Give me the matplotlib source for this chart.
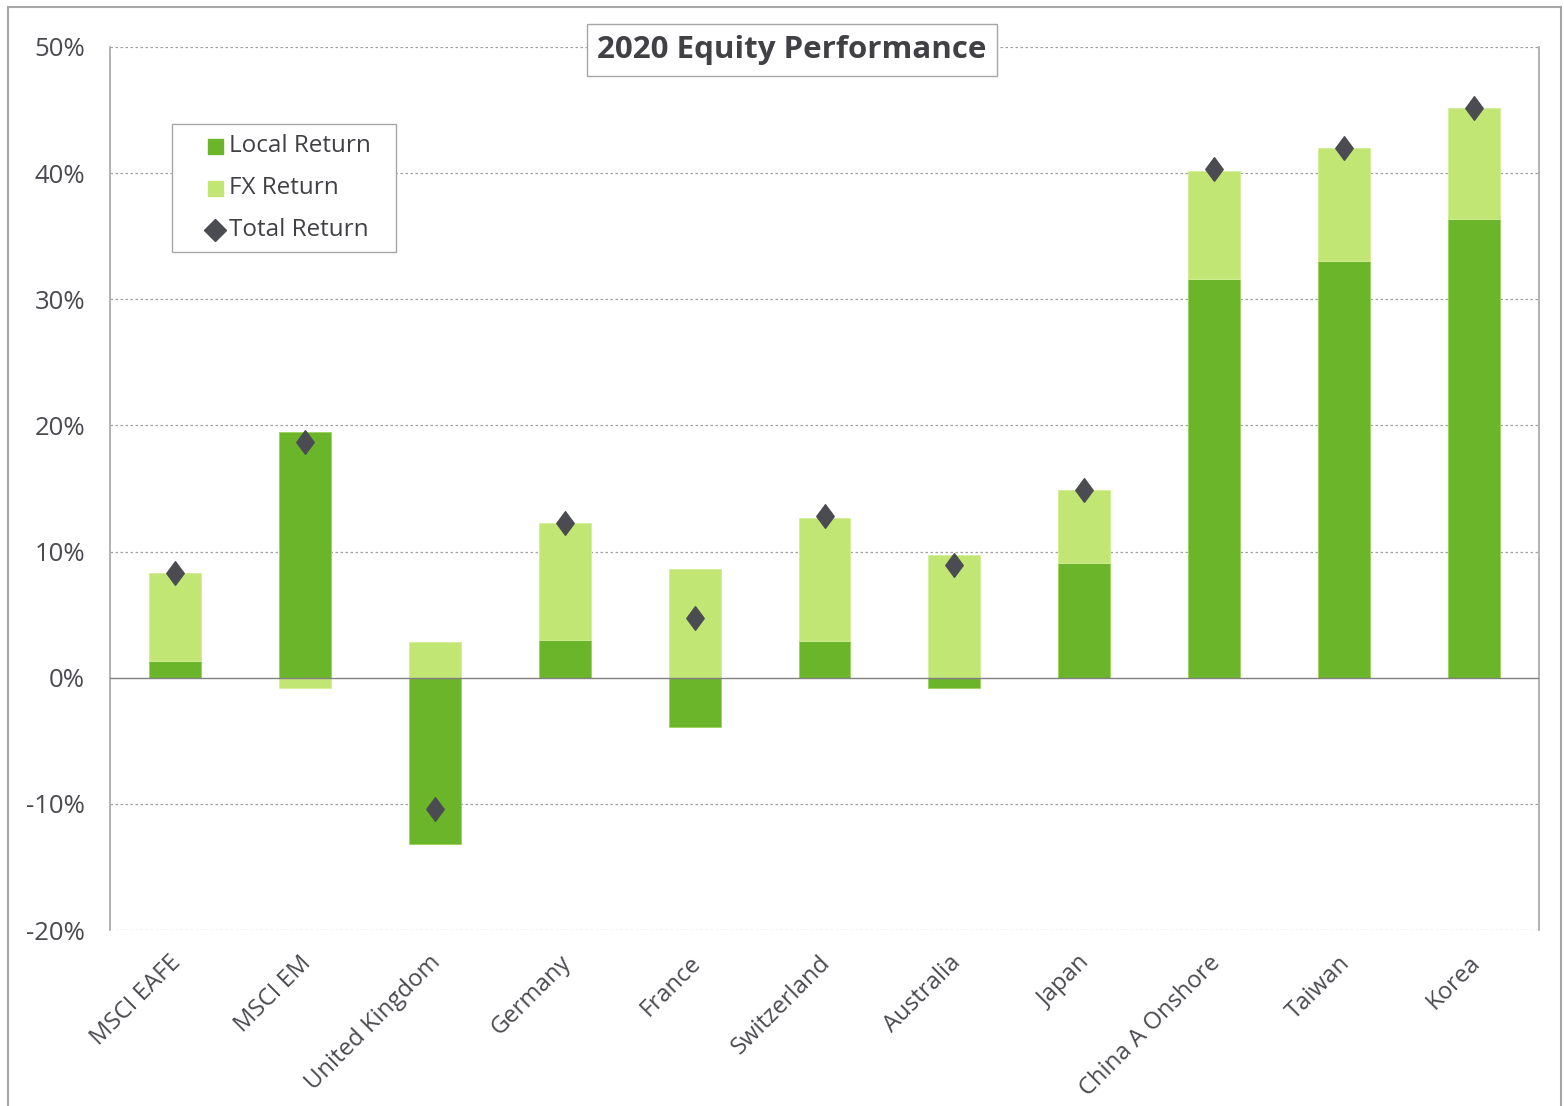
import matplotlib
matplotlib.use("Agg")
import matplotlib.pyplot as plt
from matplotlib.patches import Rectangle
from matplotlib.lines import Line2D
from matplotlib.path import Path
from matplotlib.transforms import ScaledTranslation
import numpy as np

plt.rcParams['font.family'] = ['Open Sans', 'DejaVu Sans']

categories = ["MSCI EAFE", "MSCI EM", "United Kingdom", "Germany", "France",
              "Switzerland", "Australia", "Japan", "China A Onshore", "Taiwan", "Korea"]
local_return = [1.3, 19.5, -13.2, 3.0, -3.9, 2.9, -0.8, 9.1, 31.6, 33.0, 36.4]
fx_return = [7.0, -0.8, 2.8, 9.3, 8.6, 9.8, 9.7, 5.8, 8.6, 9.0, 8.8]
total_return = [8.3, 18.7, -10.4, 12.3, 4.7, 12.8, 8.9, 14.9, 40.3, 42.0, 45.2]
y_ticks = [-20, -10, 0, 10, 20, 30, 40, 50]
series_names = ["Local Return", "FX Return", "Total Return"]

C_LOCAL = "#6BB52A"
C_FX = "#C2E673"
C_MARK = "#4B4B52"
C_TEXT = "#4A4A50"
C_TITLE = "#404045"

W, H = 1564, 1106
fig = plt.figure(figsize=(W / 100, H / 100), dpi=100)
ax = fig.add_axes([110 / W, 1 - 930 / H, (1539 - 110) / W, (930 - 47) / H])


def fx_(px):
    return px / W


def fy_(py):
    return 1 - py / H


# outer chart border
fig.patches.append(Rectangle((fx_(8), -0.01), (1561 - 8) / W, (1106 - 7) / H + 0.01,
                             transform=fig.transFigure, fill=False,
                             edgecolor="#A6A6A6", linewidth=1.5))

x = np.arange(len(categories))
local = np.array(local_return)
fx = np.array(fx_return)

# Excel-style stacking: positives stack upward from 0, negatives downward
pos_base = np.zeros(len(x))
neg_base = np.zeros(len(x))
local_bottom = np.where(local >= 0, pos_base, neg_base)
pos_base = pos_base + np.where(local >= 0, local, 0)
neg_base = neg_base + np.where(local < 0, local, 0)
fx_bottom = np.where(fx >= 0, pos_base, neg_base)

width = 0.4
ax.bar(x, local, width, bottom=local_bottom, color=C_LOCAL,
       edgecolor="#9ED25A", linewidth=0.6, zorder=3)
ax.bar(x, fx, width, bottom=fx_bottom, color=C_FX,
       edgecolor="#D2EE97", linewidth=0.6, zorder=3)

diamond = Path([(0, 1), (0.74, 0), (0, -1), (-0.74, 0), (0, 1)],
               [Path.MOVETO, Path.LINETO, Path.LINETO, Path.LINETO, Path.CLOSEPOLY])
ax.plot(x, total_return, linestyle="none", marker=diamond, markersize=17,
        color=C_MARK, zorder=4)

ax.set_xlim(-0.5, len(categories) - 0.5)
ax.set_ylim(-20, 50)
ax.set_yticks(y_ticks)
ax.set_yticklabels([f"{v}%" for v in y_ticks])
ax.tick_params(axis="y", length=0, pad=18, labelsize=18.5, labelcolor=C_TEXT)
ax.set_xticks(x)
ax.set_xticklabels(categories, rotation=45, ha="right", rotation_mode="anchor")
ax.tick_params(axis="x", length=0, pad=15, labelsize=17.2, labelcolor=C_TEXT)
shift = ScaledTranslation(-6 / 100, 0, fig.dpi_scale_trans)
for lbl in ax.get_xticklabels():
    lbl.set_transform(lbl.get_transform() + shift)

for v in y_ticks:
    if v == 0:
        ax.axhline(0, color="#808080", linewidth=1.0, zorder=3.5)
    else:
        ax.axhline(v, color="#A0A0A0", linewidth=0.9, linestyle=(0, (2, 2)), zorder=1)

for side in ["top", "bottom"]:
    ax.spines[side].set_visible(False)
for side in ["left", "right"]:
    ax.spines[side].set_color("#A6A6A6")
    ax.spines[side].set_linewidth(1.2)

# title with box
fig.text(fx_(792), fy_(50), "2020 Equity Performance", ha="center", va="center",
         fontsize=22.5, fontweight="bold", color=C_TITLE, zorder=6,
         bbox=dict(boxstyle="square,pad=0.34", facecolor="white", edgecolor="#A6A6A6",
                   linewidth=1.0))

# legend (drawn as a framed key)
fig.patches.append(Rectangle((fx_(172), fy_(252)), (396 - 172) / W, (252 - 124) / H,
                             transform=fig.transFigure, facecolor="white",
                             edgecolor="#A6A6A6", linewidth=1.0, zorder=5))
rows_y = [146, 188, 230]
fig.patches.append(Rectangle((fx_(208), fy_(rows_y[0] + 8)), 15 / W, 15 / H,
                             transform=fig.transFigure, color=C_LOCAL, zorder=6))
fig.patches.append(Rectangle((fx_(208), fy_(rows_y[1] + 8)), 15 / W, 15 / H,
                             transform=fig.transFigure, color=C_FX, zorder=6))
fig.lines.append(Line2D([fx_(215)], [fy_(rows_y[2])], transform=fig.transFigure,
                        linestyle="none", marker="D", markersize=11, color=C_MARK, zorder=6))
for name, ry in zip(series_names, rows_y):
    fig.text(fx_(229), fy_(ry), name, ha="left", va="center", fontsize=17.5,
             color=C_TITLE, zorder=7)

fig.savefig("out.png", dpi=100, facecolor="white")
